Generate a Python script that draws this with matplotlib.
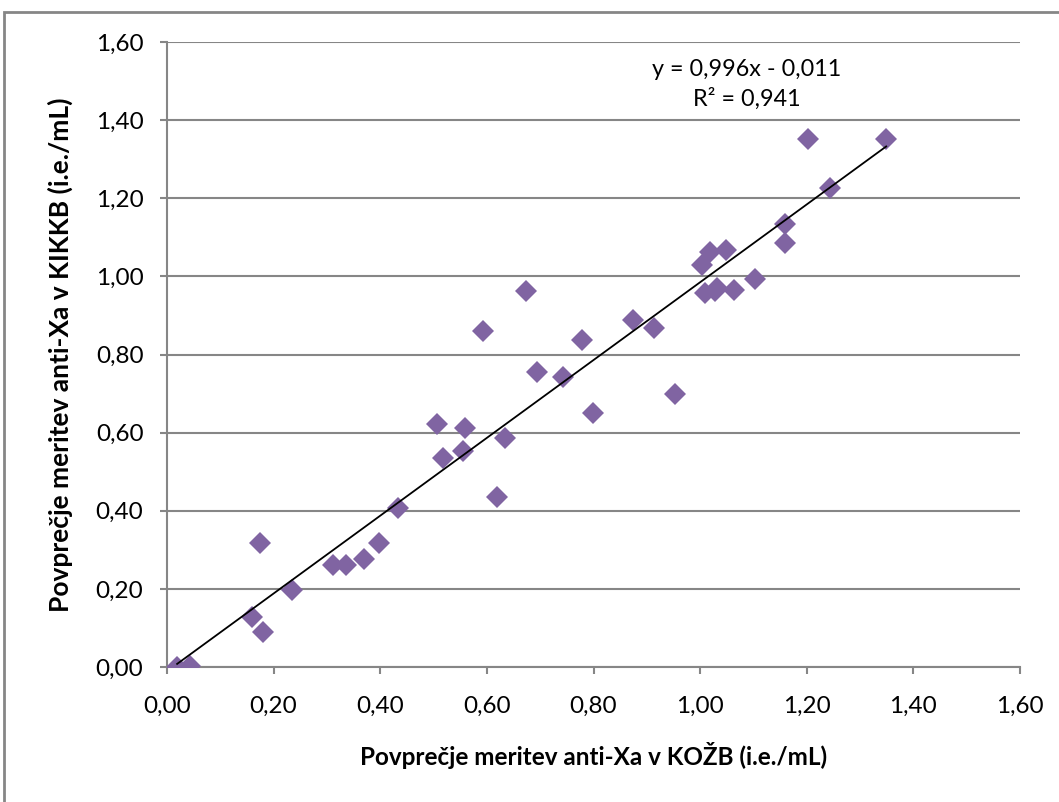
# Scatter: anti-Xa averages KOZB vs KIKKB with linear trendline

import numpy as np
import matplotlib
matplotlib.use('Agg')
import matplotlib.pyplot as plt
from matplotlib.ticker import FuncFormatter, MultipleLocator
from matplotlib.patches import Rectangle

plt.rcParams['font.family'] = ['Lato', 'DejaVu Sans']

# --- data ---
kozb = [0.019, 0.043, 0.159, 0.180, 0.174, 0.234, 0.311, 0.336, 0.370, 0.398,
        0.433, 0.507, 0.518, 0.555, 0.559, 0.593, 0.619, 0.634, 0.673, 0.694,
        0.743, 0.778, 0.799, 0.874, 0.914, 0.953, 1.004, 1.009, 1.019, 1.028,
        1.032, 1.049, 1.064, 1.103, 1.159, 1.159, 1.203, 1.244, 1.349]
kikkb = [0.000, 0.003, 0.128, 0.090, 0.317, 0.197, 0.261, 0.261, 0.276, 0.317,
         0.407, 0.622, 0.535, 0.553, 0.612, 0.860, 0.435, 0.586, 0.963, 0.755,
         0.742, 0.837, 0.650, 0.888, 0.868, 0.700, 1.029, 0.957, 1.062, 0.962,
         0.970, 1.068, 0.965, 0.993, 1.134, 1.086, 1.352, 1.226, 1.352]
slope, intercept = 0.996, -0.011
eq_text = 'y = 0,996x - 0,011'
r2_text = 'R² = 0,941'
xlabel = 'Povprečje meritev anti-Xa v KOŽB (i.e./mL)'
ylabel = 'Povprečje meritev anti-Xa v KIKKB (i.e./mL)'

purple = '#8064A2'
grey = '#868686'

fig = plt.figure(figsize=(10.59, 8.02), dpi=100)
ax = fig.add_axes([167/1059, 1 - 667/802, (1020-167)/1059, (667-42)/802])

ax.plot(kozb, kikkb, linestyle='none', marker='D', markersize=11,
        color=purple, markeredgewidth=0, zorder=3)

# trendline over the data range
xt = np.array([min(kozb), max(kozb)])
ax.plot(xt, slope*xt + intercept, color='black', lw=1.3, zorder=4)

ax.set_xlim(0, 1.6)
ax.set_ylim(0, 1.6)
ax.xaxis.set_major_locator(MultipleLocator(0.2))
ax.yaxis.set_major_locator(MultipleLocator(0.2))
fmt = FuncFormatter(lambda v, p: f'{v:.2f}'.replace('.', ','))
ax.xaxis.set_major_formatter(fmt)
ax.yaxis.set_major_formatter(fmt)

ax.grid(True, axis='y', color=grey, lw=1.5)
ax.set_axisbelow(True)
for s in ['top', 'right']:
    ax.spines[s].set_visible(False)
for s in ['left', 'bottom']:
    ax.spines[s].set_color(grey)
    ax.spines[s].set_linewidth(1.5)
ax.tick_params(axis='both', direction='out', length=5, width=1.5, color=grey,
               labelsize=17.5, labelcolor='black')
ax.tick_params(axis='y', pad=12)
ax.tick_params(axis='x', pad=16)

ax.set_xlabel(xlabel, fontsize=17.5, fontweight='bold', labelpad=18)
ax.set_ylabel(ylabel, fontsize=19, fontweight='bold', labelpad=16)

ax.text(1.087, 1.53, eq_text, fontsize=16.8, ha='center', va='center')
ax.text(1.087, 1.455, r2_text, fontsize=16.8, ha='center', va='center')

# outer chart border
fig.patches.append(Rectangle((4/1059, -0.05), 1.1, 1 - 12/802 + 0.05,
                             transform=fig.transFigure, fill=False,
                             edgecolor=grey, lw=2))

fig.savefig('out.png', dpi=100)
